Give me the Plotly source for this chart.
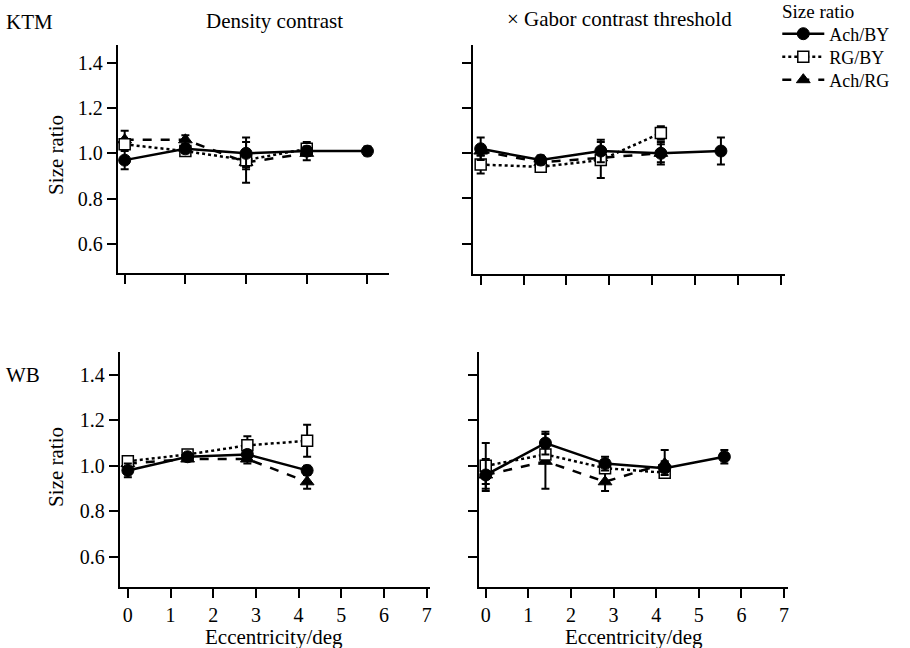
import plotly.graph_objects as go

# ---------------- data ----------------
ecc5 = [0, 1.4, 2.8, 4.2, 5.6]
ecc4 = [0, 1.4, 2.8, 4.2]

series_names = ["Ach/BY", "RG/BY", "Ach/RG"]

# KTM – Density contrast
ktm_den_achby = [0.97, 1.02, 1.00, 1.01, 1.01]
ktm_den_achby_err = [0.04, 0.02, 0.07, 0.02, 0.02]
ktm_den_rgby = [1.04, 1.01, 0.97, 1.02]
ktm_den_rgby_err = [0.02, 0.02, 0.03, 0.03]
ktm_den_achrg = [1.06, 1.06, 0.96, 1.00]
ktm_den_achrg_err = [0.04, 0.02, 0.09, 0.03]

# KTM – x Gabor contrast threshold
ktm_gab_achby = [1.02, 0.97, 1.01, 1.00, 1.01]
ktm_gab_achby_err = [0.05, 0.02, 0.05, 0.05, 0.06]
ktm_gab_rgby = [0.95, 0.94, 0.97, 1.09]
ktm_gab_rgby_err = [0.04, 0.02, 0.08, 0.03]
ktm_gab_achrg = [1.01, 0.96, 0.98, 1.00]
ktm_gab_achrg_err = [0.02, 0.02, 0.03, 0.04]

# WB – Density contrast
wb_den_achby = [0.98, 1.04, 1.05, 0.98]
wb_den_achby_err = [0.03, 0.01, 0.02, 0.02]
wb_den_rgby = [1.02, 1.05, 1.09, 1.11]
wb_den_rgby_err = [0.02, 0.01, 0.04, 0.07]
wb_den_achrg = [1.01, 1.03, 1.03, 0.93]
wb_den_achrg_err = [0.02, 0.01, 0.02, 0.03]

# WB – x Gabor contrast threshold
wb_gab_achby = [0.96, 1.10, 1.01, 0.99, 1.04]
wb_gab_achby_err = [0.07, 0.05, 0.03, 0.03, 0.03]
wb_gab_rgby = [1.00, 1.05, 0.99, 0.97]
wb_gab_rgby_err = [0.10, 0.03, 0.02, 0.02]
wb_gab_achrg = [0.96, 1.02, 0.93, 1.01]
wb_gab_achrg_err = [0.04, 0.12, 0.04, 0.06]

xticks_full = [0, 1, 2, 3, 4, 5, 6, 7]
yticks = [0.6, 0.8, 1.0, 1.2, 1.4]

# ---------------- layout helpers ----------------
W, H = 910, 648
FONT = "Liberation Serif"
FS_TICK = 20
FS_TEXT = 21
FS_LEG = 18


def px_x(p):
    return p / W


def px_y(p):
    return 1 - p / H


panels = {
    "tl": ("x", "y", (118, 390), (45, 273), [-0.16, 6.1], [0.47, 1.48]),
    "tr": ("x2", "y2", (474, 787), (45, 274), [-0.18, 7.1], [0.465, 1.48]),
    "bl": ("x3", "y3", (120, 431), (352, 587), [-0.19, 7.08], [0.468, 1.5]),
    "br": ("x4", "y4", (480, 790), (352, 587), [-0.16, 7.1], [0.468, 1.5]),
}

styles = {
    "Ach/BY": dict(line=dict(color="black", width=2.5, dash="solid"),
                   marker=dict(symbol="circle", size=12, color="black",
                               line=dict(color="black", width=1))),
    "RG/BY": dict(line=dict(color="black", width=2.5, dash="dot"),
                  marker=dict(symbol="square", size=11, color="white",
                              line=dict(color="black", width=1.5))),
    "Ach/RG": dict(line=dict(color="black", width=2.5, dash="dash"),
                   marker=dict(symbol="triangle-up", size=12, color="black",
                               line=dict(color="black", width=1))),
}
legend_ids = {"Ach/BY": "legend", "RG/BY": "legend2", "Ach/RG": "legend3"}
legend_y = {"legend": 34, "legend2": 57, "legend3": 80}

panel_data = {
    "tl": [(ecc5, ktm_den_achby, ktm_den_achby_err),
           (ecc4, ktm_den_rgby, ktm_den_rgby_err),
           (ecc4, ktm_den_achrg, ktm_den_achrg_err)],
    "tr": [(ecc5, ktm_gab_achby, ktm_gab_achby_err),
           (ecc4, ktm_gab_rgby, ktm_gab_rgby_err),
           (ecc4, ktm_gab_achrg, ktm_gab_achrg_err)],
    "bl": [(ecc4, wb_den_achby, wb_den_achby_err),
           (ecc4, wb_den_rgby, wb_den_rgby_err),
           (ecc4, wb_den_achrg, wb_den_achrg_err)],
    "br": [(ecc5, wb_gab_achby, wb_gab_achby_err),
           (ecc4, wb_gab_rgby, wb_gab_rgby_err),
           (ecc4, wb_gab_achrg, wb_gab_achrg_err)],
}

fig = go.Figure()

order = [2, 1, 0]
for key, (xa, ya, _, _, _, _) in panels.items():
    for i in order:
        name = series_names[i]
        xs, ys, es = panel_data[key][i]
        st = styles[name]
        fig.add_trace(go.Scatter(
            x=xs, y=ys, mode="lines+markers", name=name,
            xaxis=xa, yaxis=ya,
            line=st["line"], marker=st["marker"],
            error_y=dict(type="data", array=es, visible=True,
                         color="black", thickness=2, width=4),
            showlegend=(key == "tl"), legend=legend_ids[name],
        ))

axis_common = dict(showline=True, linecolor="black", linewidth=2,
                   ticks="outside", ticklen=9, tickwidth=2, tickcolor="black",
                   showgrid=False, zeroline=False,
                   tickfont=dict(family=FONT, size=FS_TICK, color="black"))

layout = dict(
    width=W, height=H,
    margin=dict(l=0, r=0, t=0, b=0),
    paper_bgcolor="white", plot_bgcolor="white",
    font=dict(family=FONT, size=FS_TICK, color="black"),
)
for lid, ly in legend_y.items():
    layout[lid] = dict(x=px_x(779), y=px_y(ly), xanchor="left", yanchor="middle",
                       font=dict(family=FONT, size=FS_LEG, color="black"),
                       itemwidth=42, bgcolor="rgba(0,0,0,0)", borderwidth=0)

for key, (xa, ya, xd, yd, xr, yr) in panels.items():
    xname = "xaxis" if xa == "x" else "xaxis" + xa[1:]
    yname = "yaxis" if ya == "y" else "yaxis" + ya[1:]
    xax = dict(axis_common)
    xax.update(domain=[px_x(xd[0]), px_x(xd[1])], range=xr, anchor=ya)
    if key == "tl":
        xax.update(tickmode="array", tickvals=ecc5, showticklabels=False)
    else:
        xax.update(tickmode="array", tickvals=xticks_full,
                   ticktext=[str(t) for t in xticks_full],
                   showticklabels=key in ("bl", "br"))
    yax = dict(axis_common)
    yax.update(domain=[px_y(yd[1]), px_y(yd[0])], range=yr, anchor=xa,
               tickmode="array", tickvals=yticks,
               ticktext=["%.1f" % v for v in yticks],
               showticklabels=key in ("tl", "bl"))
    layout[xname] = xax
    layout[yname] = yax

fig.update_layout(**layout)

ann = [
    ("KTM", 4, 22, 0, "left", FS_TEXT),
    ("WB", 4, 375, 0, "left", FS_TEXT),
    ("Density contrast", 275, 21, 0, "center", FS_TEXT),
    ("\u00d7 Gabor contrast threshold", 621, 19, 0, "center", FS_TEXT),
    ("Eccentricity/deg", 275, 637, 0, "center", FS_TEXT),
    ("Eccentricity/deg", 635, 637, 0, "center", FS_TEXT),
    ("Size ratio", 56, 155, -90, "center", FS_TEXT),
    ("Size ratio", 56, 467, -90, "center", FS_TEXT),
    ("Size ratio", 782, 12, 0, "left", 19),
]
for text, x, y, ang, al, fs in ann:
    fig.add_annotation(text=text, x=px_x(x), y=px_y(y), xref="paper", yref="paper",
                       xanchor=al, yanchor="middle", textangle=ang, showarrow=False,
                       font=dict(family=FONT, size=fs, color="black"))

fig.write_html("out.html")
